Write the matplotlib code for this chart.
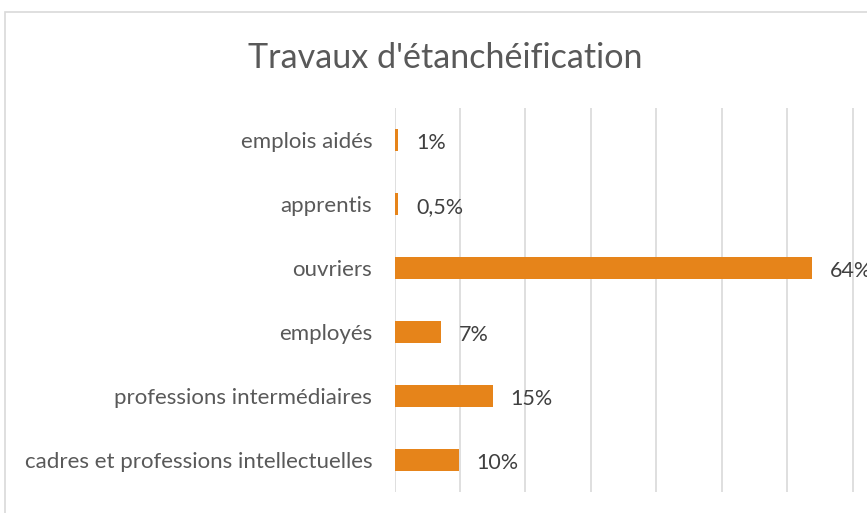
import matplotlib
matplotlib.use("Agg")
import matplotlib.pyplot as plt
from matplotlib.patches import Rectangle

# donnees
categories = ["cadres et professions intellectuelles", "professions intermédiaires",
              "employés", "ouvriers", "apprentis", "emplois aidés"]
valeurs = [9.8, 15.0, 7.1, 63.8, 0.6, 0.6]
etiquettes = ["10%", "15%", "7%", "64%", "0,5%", "1%"]

plt.rcParams['font.family'] = ['Lato', 'DejaVu Sans']

W, H = 867, 513
fig = plt.figure(figsize=(W / 100, H / 100), dpi=100)

# cadre du graphique (coupe a droite et en bas)
fig.patches.append(Rectangle((5 / W, -0.1), 1.2, 1 - 12 / H + 0.1, transform=fig.transFigure,
                             fill=False, edgecolor="#D9D9D9", linewidth=1.2))

x0 = 394.5
ax = fig.add_axes([x0 / W, 1 - 492 / H, (W - x0) / W, 384 / H])
echelle = 6.543
ax.set_xlim(0, (W - x0) / echelle)
ax.set_ylim(-0.5, 5.5)

ax.barh(range(len(categories)), valeurs, height=0.34, color="#E6841A", zorder=3)

for i, (v, t) in enumerate(zip(valeurs, etiquettes)):
    ax.annotate(t, (v, i), xytext=(18, -3), textcoords="offset pixels",
                va="center", ha="left", fontsize=15.5, color="#404040",
                annotation_clip=False, clip_on=False)

ax.set_xticks(range(0, 80, 10))
ax.grid(axis="x", color="#D9D9D9", linewidth=1.2, zorder=0)
ax.tick_params(axis="x", length=0, labelbottom=False)
ax.tick_params(axis="y", length=0, pad=16)
ax.set_yticks(range(len(categories)))
ax.set_yticklabels(categories, fontsize=16, color="#595959")
for s in ax.spines.values():
    s.set_visible(False)
ax.patch.set_alpha(0)

fig.text(445 / W, 1 - 58 / H, "Travaux d'étanchéification", ha="center", va="center",
         fontsize=24.6, color="#595959")

fig.savefig("out.png", dpi=100)
